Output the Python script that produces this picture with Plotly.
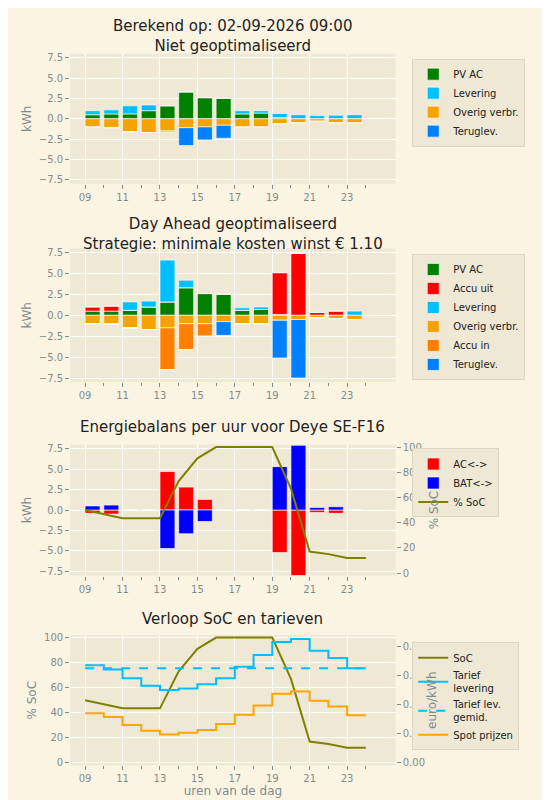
import plotly.graph_objects as go
import numpy as np

uren = list(range(9, 24))
uren_soc = list(range(9, 25))
tick_vals = [9, 11, 13, 15, 17, 19, 21, 23]
tick_text = ["09", "11", "13", "15", "17", "19", "21", "23"]

# niet geoptimaliseerd
pv_1 = [0.5, 0.6, 0.6, 1.0, 1.6, 3.3, 2.6, 2.5, 0.6, 0.7, 0.15, 0, 0, 0, 0]
lev_1 = [0.5, 0.5, 1.0, 0.7, 0, 0, 0, 0, 0.4, 0.3, 0.5, 0.5, 0.4, 0.45, 0.5]
overig_1 = [-1.0, -1.1, -1.6, -1.7, -1.5, -1.1, -1.0, -0.8, -1.0, -1.0, -0.6, -0.5, -0.3, -0.5, -0.5]
terug_1 = [0, 0, 0, 0, -0.1, -2.2, -1.6, -1.6, 0, 0, 0, 0, 0, 0, 0]

# day ahead geoptimaliseerd
pv_2 = [0.5, 0.5, 0.6, 1.0, 1.6, 3.3, 2.6, 2.5, 0.6, 0.7, 0.1, 0, 0, 0, 0]
uit_2 = [0.5, 0.6, 0, 0, 0, 0, 0, 0, 0, 0, 5.0, 7.4, 0.35, 0.5, 0]
lev_2 = [0, 0, 1.0, 0.7, 5.0, 0.9, 0, 0, 0.3, 0.3, 0, 0, 0, 0, 0.5]
overig_2 = [-1.0, -1.05, -1.5, -1.7, -1.5, -1.0, -1.0, -0.75, -1.0, -1.0, -0.6, -0.5, -0.3, -0.4, -0.5]
in_2 = [0, 0, 0, 0, -5.0, -3.1, -1.5, 0, 0, 0, 0, 0, 0, 0, 0]
terug_2 = [0, 0, 0, 0, 0, 0, 0, -1.65, 0, 0, -4.5, -7.0, 0, 0, 0]

# energiebalans
ac = [-0.4, -0.5, 0, 0, 4.7, 2.8, 1.3, 0, 0, 0, -5.2, -8.0, -0.3, -0.4, 0]
bat = [0.5, 0.6, 0, 0, -4.7, -2.9, -1.4, 0, 0, 0, 5.3, 7.9, 0.3, 0.4, 0]
soc = [50, 47, 43.5, 43.5, 43.5, 73, 91, 100, 100, 100, 100, 67, 17, 15, 12, 12]

# tarieven
tarief_lev = [0.335, 0.32, 0.29, 0.265, 0.25, 0.255, 0.27, 0.29, 0.33, 0.37, 0.415, 0.425, 0.385, 0.36, 0.325, 0.325]
tarief_gem = [0.325] * 16
spot = [0.17, 0.157, 0.13, 0.11, 0.097, 0.103, 0.113, 0.133, 0.165, 0.197, 0.237, 0.245, 0.213, 0.193, 0.163, 0.163]

fig = go.Figure()
edge = dict(color="rgba(255,255,255,0.8)", width=0.8)


def bar(x, y, base, naam, kleur, xa, ya, legend):
    fig.add_trace(go.Bar(x=x, y=y, base=base, name=naam, marker_color=kleur, marker_line=edge,
                         width=0.8, offset=0, xaxis=xa, yaxis=ya, legend=legend))


b0 = np.zeros(15)
bar(uren, pv_1, b0, "PV AC", "#008000", "x", "y", "legend")
bar(uren, lev_1, np.array(pv_1), "Levering", "#00bfff", "x", "y", "legend")
bar(uren, overig_1, b0, "Overig verbr.", "#f5a300", "x", "y", "legend")
bar(uren, terug_1, np.array(overig_1), "Teruglev.", "#0080ff", "x", "y", "legend")

bar(uren, pv_2, b0, "PV AC", "#008000", "x2", "y2", "legend2")
bar(uren, uit_2, np.array(pv_2), "Accu uit", "#ff0000", "x2", "y2", "legend2")
bar(uren, lev_2, np.array(pv_2) + np.array(uit_2), "Levering", "#00bfff", "x2", "y2", "legend2")
bar(uren, overig_2, b0, "Overig verbr.", "#f5a300", "x2", "y2", "legend2")
bar(uren, in_2, np.array(overig_2), "Accu in", "#ff8000", "x2", "y2", "legend2")
bar(uren, terug_2, np.array(overig_2) + np.array(in_2), "Teruglev.", "#0080ff", "x2", "y2", "legend2")

bar(uren, ac, b0, "AC<->", "#ff0000", "x3", "y3", "legend3")
bar(uren, bat, b0, "BAT<->", "#0000ff", "x3", "y3", "legend3")
fig.add_trace(go.Scatter(x=uren_soc, y=soc, mode="lines", name="% SoC", line=dict(color="#808000", width=2),
                         xaxis="x3", yaxis="y5", legend="legend3"))

fig.add_trace(go.Scatter(x=uren_soc, y=soc, mode="lines", name="SoC", line=dict(color="#808000", width=2),
                         xaxis="x4", yaxis="y4", legend="legend4"))
fig.add_trace(go.Scatter(x=uren_soc, y=tarief_lev, mode="lines", name="Tarief<br>levering", line=dict(color="#00bfff", width=2, shape="hv"),
                         xaxis="x4", yaxis="y6", legend="legend4"))
fig.add_trace(go.Scatter(x=uren_soc, y=tarief_gem, mode="lines", name="Tarief lev.<br>gemid.", line=dict(color="#00bfff", width=2, dash="dash"),
                         xaxis="x4", yaxis="y6", legend="legend4"))
fig.add_trace(go.Scatter(x=uren_soc, y=spot, mode="lines", name="Spot prijzen", line=dict(color="#ffa500", width=2, shape="hv"),
                         xaxis="x4", yaxis="y6", legend="legend4"))

grijs = "#7f8c8d"
xdom = [0.113, 0.705]
ydoms = [[0.7825, 0.946], [0.5325, 0.701], [0.289, 0.454], [0.05, 0.214]]
xas = dict(range=[8.2, 25.6], tickvals=tick_vals, ticktext=tick_text, showgrid=True, gridcolor="white",
           ticks="outside", ticklen=4, tickcolor=grijs, tickfont=dict(size=10, color=grijs), zeroline=False,
           minor=dict(tickvals=[10, 12, 14, 16, 18, 20, 22, 24], ticks="outside", ticklen=3, tickcolor=grijs, showgrid=False),
           domain=xdom)
yas = dict(showgrid=True, gridcolor="white", ticks="outside", ticklen=4, tickcolor=grijs,
           tickfont=dict(size=10, color=grijs), zeroline=False, title_font=dict(size=12, color=grijs), title_standoff=4)
kwh = dict(yas, range=[-8, 8], tickvals=[-7.5, -5, -2.5, 0, 2.5, 5, 7.5], ticktext=["−7.5", "−5.0", "−2.5", "0.0", "2.5", "5.0", "7.5"], title_text="kWh")

lay = dict(width=550, height=800, paper_bgcolor="#fcf4e3", plot_bgcolor="#eee8d5",
           font=dict(family="DejaVu Sans", color="#222"), margin=dict(l=0, r=0, t=0, b=0), barmode="overlay", showlegend=True)
for i in range(4):
    s = "" if i == 0 else str(i + 1)
    lay["xaxis" + s] = dict(xas, anchor="y" + s)
for i in range(3):
    s = "" if i == 0 else str(i + 1)
    lay["yaxis" + s] = dict(kwh, domain=ydoms[i], anchor="x" + s)
lay["yaxis4"] = dict(yas, domain=ydoms[3], anchor="x4", range=[-2, 102], tickvals=[0, 20, 40, 60, 80, 100], title_text="% SoC")
lay["yaxis5"] = dict(yas, overlaying="y3", side="right", anchor="x3", range=[-2, 102], showgrid=False,
                     tickvals=[0, 20, 40, 60, 80, 100], title_text="% SoC", title_standoff=8)
lay["yaxis6"] = dict(yas, overlaying="y4", side="right", anchor="x4", range=[-0.0086, 0.4386], showgrid=False,
                     tickvals=[0, 0.1, 0.2, 0.3, 0.4], ticktext=["0.00", "0.10", "0.20", "0.30", "0.40"], title_text="euro/kWh",
                     title_standoff=2)
lay["xaxis4"]["title"] = dict(text="uren van de dag", font=dict(size=12, color=grijs), standoff=0)

leg = dict(bgcolor="#eee8d5", bordercolor="#dcd6c4", borderwidth=1, font=dict(size=10, color="#222"),
           x=0.735, xanchor="left", yanchor="top", tracegroupgap=0, traceorder="normal", itemwidth=30)
lay["legend"] = dict(leg, y=0.94)
lay["legend2"] = dict(leg, y=0.694)
lay["legend3"] = dict(leg, y=0.449)
lay["legend4"] = dict(leg, y=0.205)
fig.update_layout(**lay)

titels = [("Berekend op: 02-09-2026 09:00<br>Niet geoptimaliseerd", 0.995),
          ("Day Ahead geoptimaliseerd<br>Strategie: minimale kosten winst € 1.10", 0.745),
          ("Energiebalans per uur voor Deye SE-F16", 0.49),
          ("Verloop SoC en tarieven", 0.248)]
for tekst, y in titels:
    fig.add_annotation(text=tekst, x=(xdom[0] + xdom[1]) / 2, y=y, xref="paper", yref="paper",
                       xanchor="center", yanchor="top", showarrow=False, font=dict(size=15, color="#222"))

fig.write_html("out.html")
